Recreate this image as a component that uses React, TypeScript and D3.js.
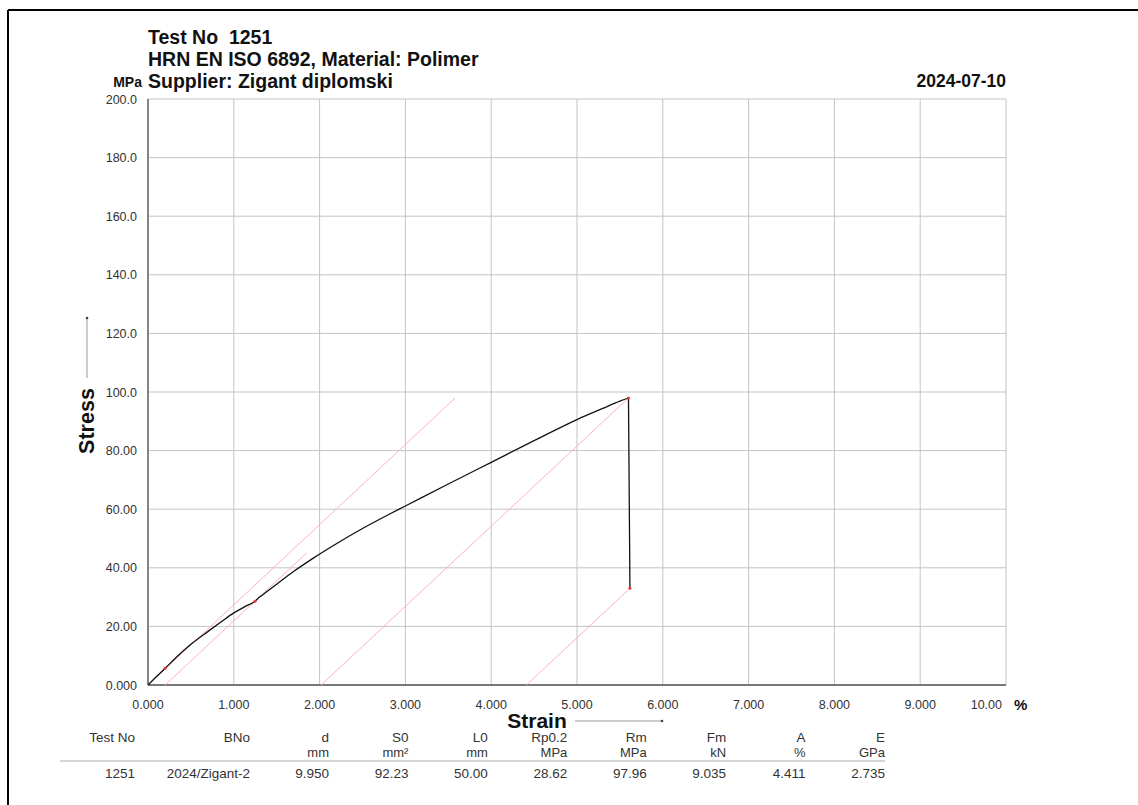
import React from "react";
import * as d3 from "d3";

// ---------- data ----------
const curveStrain = [0, 0.1, 0.2, 0.3, 0.5, 0.7, 0.85, 1.0, 1.12, 1.247, 1.3, 1.383, 1.5, 1.7, 1.927, 2.2, 2.5, 2.8, 3.0, 3.5, 4.0, 4.5, 5.0, 5.3, 5.5, 5.6];
const curveStress = [0, 2.9, 5.7, 8.6, 13.9, 18.3, 21.5, 24.6, 26.6, 28.6, 30.0, 31.8, 34.4, 38.8, 43.3, 48.3, 53.4, 58.1, 61.1, 68.6, 76.0, 83.4, 90.6, 94.4, 96.9, 97.96];
const dropStrain = [5.6, 5.61, 5.617];
const dropStress = [97.96, 60.0, 33.0];

// construction lines (strain %, stress MPa)
const eLineStart = [0, 0];
const eLineEnd = [3.58, 97.96];
const rpLineStart = [0.2, 0];
const rpLineEnd = [1.85, 45.1];
const agLineStart = [2.018, 0];
const agLineEnd = [5.6, 97.96];
const aLineStart = [4.411, 0];
const aLineEnd = [5.617, 33.0];
const markerPoints = [[0.2, 5.7], [1.247, 28.6], [5.6, 97.96], [5.617, 33.0]];

const xTicks = [0, 1, 2, 3, 4, 5, 6, 7, 8, 9, 10];
const xTickLabels = ["0.000", "1.000", "2.000", "3.000", "4.000", "5.000", "6.000", "7.000", "8.000", "9.000", "10.00"];
const yTicks = [0, 20, 40, 60, 80, 100, 120, 140, 160, 180, 200];
const yTickLabels = ["0.000", "20.00", "40.00", "60.00", "80.00", "100.0", "120.0", "140.0", "160.0", "180.0", "200.0"];

const titleLines = ["Test No  1251", "HRN EN ISO 6892, Material: Polimer", "Supplier: Zigant diplomski"];
const dateLabel = "2024-07-10";

const tableHeaders = ["Test No", "BNo", "d", "S0", "L0", "Rp0.2", "Rm", "Fm", "A", "E"];
const tableUnits = ["", "", "mm", "mm²", "mm", "MPa", "MPa", "kN", "%", "GPa"];
const tableValues = ["1251", "2024/Zigant-2", "9.950", "92.23", "50.00", "28.62", "97.96", "9.035", "4.411", "2.735"];

// ---------- layout ----------
const W = 1138;
const H = 805;
const FONT = "'Liberation Sans', Arial, Helvetica, sans-serif";

export default function App() {
  const x = d3.scaleLinear().domain([0, 10]).range([148, 1006]);
  const y = d3.scaleLinear().domain([0, 200]).range([685, 99]);

  const riseLine = d3
    .line<number>()
    .x((_, i) => x(curveStrain[i]))
    .y((d) => y(d))
    .curve(d3.curveMonotoneX);
  const dropLine = d3
    .line<number>()
    .x((_, i) => x(dropStrain[i]))
    .y((d) => y(d));
  const risePath = riseLine(curveStress) || "";
  const dropPath = dropLine(dropStress) || "";

  const seg = (a: number[], b: number[]) => ({ x1: x(a[0]), y1: y(a[1]), x2: x(b[0]), y2: y(b[1]) });
  const redLines = [seg(eLineStart, eLineEnd), seg(rpLineStart, rpLineEnd), seg(agLineStart, agLineEnd), seg(aLineStart, aLineEnd)];

  const colX = (i: number) => {
    if (i === 0) return 135;
    if (i === 1) return 250;
    return d3.scaleLinear().domain([2, 9]).range([329, 885])(i);
  };

  return (
    <svg width={W} height={H} style={{ position: "absolute", left: 0, top: 0 }} fontFamily={FONT}>
      <rect x={0} y={0} width={W} height={H} fill="#fff" />
      {/* page frame */}
      <line x1={8} y1={10} x2={W} y2={10} stroke="#000" strokeWidth={2} />
      <line x1={8} y1={10} x2={8} y2={H} stroke="#000" strokeWidth={2} />

      {/* titles */}
      {titleLines.map((t, i) => (
        <text key={i} x={148} y={44 + i * 22} fontSize={19.5} fontWeight="bold" fill="#111" style={{ whiteSpace: "pre" }}>
          {t}
        </text>
      ))}
      <text x={142} y={87} fontSize={14} fontWeight="bold" textAnchor="end" fill="#111">MPa</text>
      <text x={1006} y={87} fontSize={17.5} fontWeight="bold" textAnchor="end" fill="#111">{dateLabel}</text>

      {/* grid */}
      {xTicks.map((t) => (
        <line key={"gx" + t} x1={x(t)} x2={x(t)} y1={y(200)} y2={y(0)} stroke="#c4c4c4" strokeWidth={1} />
      ))}
      {yTicks.map((t) => (
        <line key={"gy" + t} x1={x(0)} x2={x(10)} y1={y(t)} y2={y(t)} stroke="#c4c4c4" strokeWidth={1} />
      ))}
      {/* axes */}
      <line x1={x(0)} x2={x(0)} y1={y(200)} y2={y(0)} stroke="#666" strokeWidth={1.5} />
      <line x1={x(0)} x2={x(10)} y1={y(0)} y2={y(0)} stroke="#555" strokeWidth={1.5} />

      {/* tick labels */}
      {yTicks.map((t, i) => (
        <text key={"ly" + t} x={137} y={y(t) + 4.5} fontSize={12.5} textAnchor="end" fill="#333">
          {yTickLabels[i]}
        </text>
      ))}
      {xTicks.map((t, i) => (
        <text key={"lx" + t} x={i === xTicks.length - 1 ? x(t) - 4 : x(t)} y={709} fontSize={12.5}
          textAnchor={i === xTicks.length - 1 ? "end" : "middle"} fill="#333">
          {xTickLabels[i]}
        </text>
      ))}
      <text x={1014} y={710} fontSize={15} fontWeight="bold" fill="#111">%</text>

      {/* axis titles */}
      <text transform={`translate(94,421) rotate(-90)`} fontSize={21.5} fontWeight="bold" textAnchor="middle" fill="#111">Stress</text>
      <line x1={87} x2={87} y1={378} y2={318} stroke="#999" strokeWidth={1} />
      <circle cx={87} cy={318} r={1.3} fill="#444" />
      <text x={537} y={728} fontSize={21} fontWeight="bold" textAnchor="middle" fill="#111">Strain</text>
      <line x1={575} x2={662} y1={721} y2={721} stroke="#999" strokeWidth={1} />
      <circle cx={662} cy={721} r={1.3} fill="#444" />

      {/* construction lines */}
      {redLines.map((l, i) => (
        <line key={"r" + i} {...l} stroke="#ffb3b3" strokeWidth={1} />
      ))}

      {/* curve */}
      <path d={risePath} fill="none" stroke="#111" strokeWidth={1.3} />
      <path d={dropPath} fill="none" stroke="#111" strokeWidth={1.3} />
      {markerPoints.map((p, i) => (
        <circle key={"m" + i} cx={x(p[0])} cy={y(p[1])} r={1.5} fill="#e33" />
      ))}

      {/* table */}
      {tableHeaders.map((h, i) => (
        <text key={"th" + i} x={colX(i)} y={742} fontSize={13.5} textAnchor="end" fill="#333">{h}</text>
      ))}
      {tableUnits.map((u, i) => (
        <text key={"tu" + i} x={colX(i)} y={757} fontSize={13} textAnchor="end" fill="#333">{u}</text>
      ))}
      <line x1={60} x2={885} y1={761} y2={761} stroke="#aaa" strokeWidth={1} />
      {tableValues.map((v, i) => (
        <text key={"tv" + i} x={colX(i)} y={778} fontSize={13.5} textAnchor="end" fill="#333">{v}</text>
      ))}
    </svg>
  );
}
